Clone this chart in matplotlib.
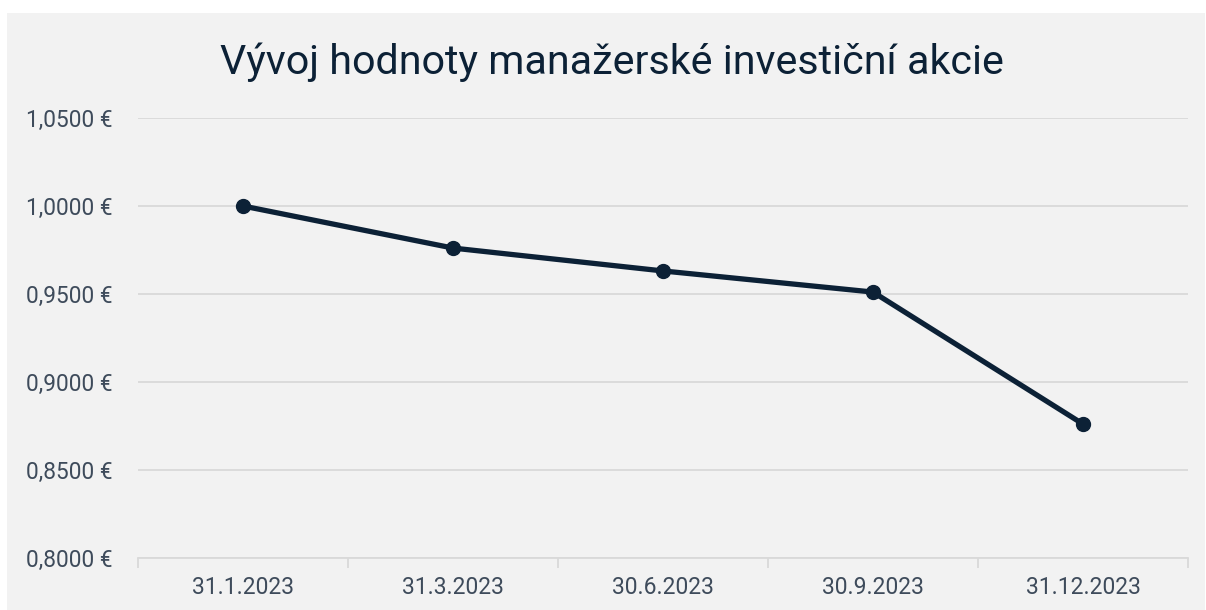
import matplotlib.pyplot as plt
from matplotlib.patches import Rectangle
from matplotlib.ticker import FuncFormatter

# data
dates = ['31.1.2023', '31.3.2023', '30.6.2023', '30.9.2023', '31.12.2023']
values = [1.0000, 0.9761, 0.9631, 0.9511, 0.8761]

dark = '#0c2136'
txt = '#3e4b5b'
grid = '#d9d9d9'
bg = '#f2f2f2'

plt.rcParams['font.family'] = ['Roboto', 'DejaVu Sans']

fig = plt.figure(figsize=(12.06, 6.10), dpi=100)
W, H = 1206, 610
# grey panel
fig.patches.append(Rectangle((7 / W, 0), 1 - 8 / W, 1 - 13 / H, transform=fig.transFigure,
                             facecolor=bg, edgecolor='none', zorder=-5))

ax = fig.add_axes([138 / W, 1 - 558 / H, 1050 / W, 440 / H])
ax.set_zorder(2)
ax.set_facecolor('none')

x = list(range(len(dates)))
ax.plot(x, values, color=dark, linewidth=3.8, marker='o', markersize=10, zorder=3,
        solid_capstyle='round')

ax.set_xlim(-0.5, len(dates) - 0.5)
ax.set_ylim(0.80, 1.05)
ax.set_yticks([0.80, 0.85, 0.90, 0.95, 1.00, 1.05])
ax.yaxis.set_major_formatter(FuncFormatter(lambda v, p: f'{v:.4f} €'.replace('.', ',')))
ax.grid(axis='y', color=grid, linewidth=1.3)
ax.set_axisbelow(True)

ax.set_xticks(x)
ax.set_xticklabels(dates)
ax.set_xticks([i - 0.5 for i in range(len(dates) + 1)], minor=True)
ax.tick_params(axis='x', which='major', length=0, pad=13, labelsize=16.5, labelcolor=txt)
ax.tick_params(axis='x', which='minor', length=7, width=1.3, color=grid, direction='out')
ax.tick_params(axis='y', length=0, pad=18, labelsize=16.3, labelcolor=txt)

for s in ['top', 'right', 'left']:
    ax.spines[s].set_visible(False)
ax.spines['bottom'].set_color(grid)
ax.spines['bottom'].set_linewidth(1.3)

fig.text(612 / W, 1 - 62 / H, 'Vývoj hodnoty manažerské investiční akcie', ha='center', va='center',
         fontsize=29.7, color=dark)

fig.savefig('out.png', dpi=100, facecolor='white')
